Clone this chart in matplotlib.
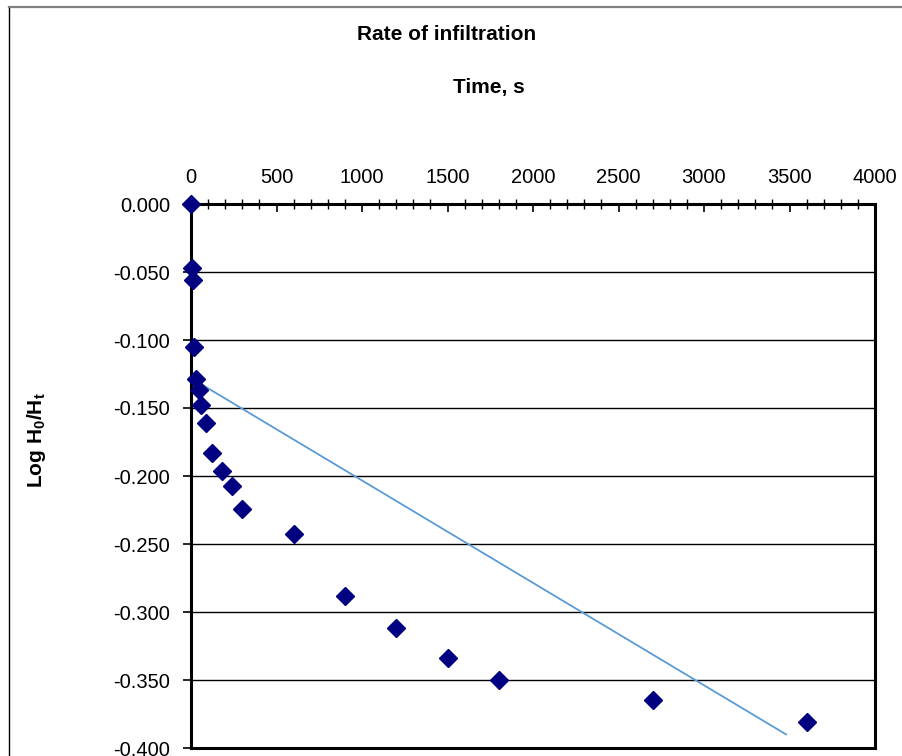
import numpy as np
import matplotlib
matplotlib.use('Agg')
import matplotlib.pyplot as plt
from matplotlib.ticker import MultipleLocator, FormatStrFormatter
from matplotlib.lines import Line2D

#==================
#====== Data
#==================
time_s = [0, 5, 10, 15, 30, 45, 60, 90, 120, 180, 240, 300,
          600, 900, 1200, 1500, 1800, 2700, 3600]
log_h0_ht = [0.000, -0.047, -0.056, -0.105, -0.129, -0.137, -0.148, -0.161,
             -0.183, -0.196, -0.207, -0.224, -0.243, -0.288, -0.312, -0.334,
             -0.350, -0.365, -0.381]
# linear trendline end points
trend_x = [0, 3480]
trend_y = [-0.128, -0.390]

plt.rcParams['font.family'] = ['Liberation Sans', 'DejaVu Sans']
plt.rcParams['mathtext.fontset'] = 'custom'
plt.rcParams['mathtext.rm'] = 'Liberation Sans'
plt.rcParams['mathtext.bf'] = 'Liberation Sans:bold'

W, H = 902, 756
fig = plt.figure(figsize=(W/100, H/100), dpi=100)

# chart area border (left + top)
fig.add_artist(Line2D([8.5/W, 8.5/W], [0, 1-6.5/H], color='black', lw=1, transform=fig.transFigure))
fig.add_artist(Line2D([8.5/W, 1], [1-6.5/H, 1-6.5/H], color='#808080', lw=1.6, transform=fig.transFigure))

ax = fig.add_axes([191/W, 1-748/H, (875-191)/W, (748-204)/H])

# grid
ax.yaxis.grid(True, color='black', lw=1)
ax.set_axisbelow(True)

ax.plot(trend_x, trend_y, color='#5B9BD5', lw=1.3, zorder=2)
ax.plot(time_s, log_h0_ht, ls='none', marker='D', ms=9.5, color='#000080',
        mec='#000080', zorder=3, clip_on=False)

ax.set_xlim(0, 4000)
ax.set_ylim(-0.4, 0.0)

ax.xaxis.tick_top()
ax.xaxis.set_major_locator(MultipleLocator(500))
ax.xaxis.set_minor_locator(MultipleLocator(100))
ax.yaxis.set_major_locator(MultipleLocator(0.05))
ax.yaxis.set_major_formatter(FormatStrFormatter('%.3f'))
ax.tick_params(axis='x', which='major', direction='in', length=6, width=1.2,
               labelsize=14.5, pad=12, top=True, bottom=False)
ax.tick_params(axis='x', which='minor', direction='inout', length=7, width=1,
               top=True, bottom=False)
ax.tick_params(axis='y', which='major', direction='out', length=6, width=1.2,
               labelsize=14.5, pad=9)

for s in ax.spines.values():
    s.set_linewidth(2.2)
    s.set_color('black')

# texts
fig.text(447/W, 1-35/H, 'Rate of infiltration', ha='center', va='center',
         fontsize=15, fontweight='bold')
fig.text(489/W, 1-88/H, 'Time, s', ha='center', va='center',
         fontsize=15, fontweight='bold')
fig.text(36/W, 1-440/H, r'Log H$_\mathbf{0}$/H$_\mathbf{t}$', rotation=90,
         ha='center', va='center', fontsize=15, fontweight='bold')

fig.savefig('out.png', dpi=100)
